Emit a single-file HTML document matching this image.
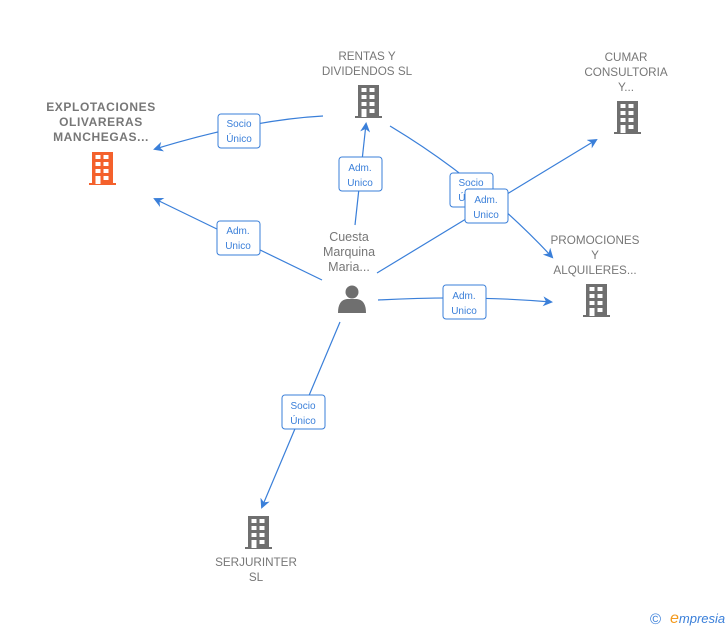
<!DOCTYPE html>
<html><head><meta charset="utf-8"><style>
html,body{margin:0;padding:0;background:#fff;}
svg{display:block;font-family:"Liberation Sans",sans-serif;}
.lbl{font-size:11.7px;fill:#777;text-anchor:middle;}
.b{font-weight:bold;font-size:12px;letter-spacing:0.6px;}
.e{fill:none;stroke:#3a7fd9;stroke-width:1.2;}
.box{fill:#fff;stroke:#3a7fd9;stroke-width:1;}
.bt{font-size:10px;fill:#3a7fd9;text-anchor:middle;}
</style></head><body>
<svg width="728" height="630" viewBox="0 0 728 630">
<defs>
<g id="bld">
<rect x="3" y="0" width="21" height="32" />
<rect x="0" y="31" width="27" height="2" />
<g fill="#fff">
<rect x="6.5" y="3" width="5" height="4"/><rect x="14.5" y="3" width="5" height="4"/>
<rect x="6.5" y="10" width="5" height="4"/><rect x="14.5" y="10" width="5" height="4"/>
<rect x="6.5" y="17" width="5" height="4"/><rect x="14.5" y="17" width="5" height="4"/>
<rect x="6.5" y="24" width="5" height="8"/><rect x="14.5" y="24" width="5" height="4"/>
</g>
</g>
<marker id="ar" markerWidth="10" markerHeight="10" refX="8" refY="5" orient="auto" markerUnits="userSpaceOnUse">
<path d="M0,0 L10,5 L0,10 L3,5 Z" fill="#3a7fd9"/>
</marker>
</defs>

<path class="e" d="M323,116 Q250,120 155,149" marker-end="url(#ar)"/>
<path class="e" d="M322,280 L155,199" marker-end="url(#ar)"/>
<path class="e" d="M355,225 L366,124" marker-end="url(#ar)"/>
<path class="e" d="M390,126 Q480,180 552,257" marker-end="url(#ar)"/>
<path class="e" d="M377,273 L596,140" marker-end="url(#ar)"/>
<path class="e" d="M378,300 Q470,295 551,302" marker-end="url(#ar)"/>
<path class="e" d="M340,322 L262,507" marker-end="url(#ar)"/>

<rect class="box" x="218" y="114" width="42" height="34" rx="3"/>
<text class="bt" x="239" y="127">Socio</text><text class="bt" x="239" y="142">Único</text>
<rect class="box" x="217" y="221" width="43" height="34" rx="3"/>
<text class="bt" x="238" y="234">Adm.</text><text class="bt" x="238" y="249">Unico</text>
<rect class="box" x="339" y="157" width="43" height="34" rx="3"/>
<text class="bt" x="360" y="171">Adm.</text><text class="bt" x="360" y="186">Unico</text>
<rect class="box" x="450" y="173" width="43" height="34" rx="3"/>
<text class="bt" x="471" y="186">Socio</text><text class="bt" x="471" y="201">Único</text>
<rect class="box" x="465" y="189" width="43" height="34" rx="3"/>
<text class="bt" x="486" y="203">Adm.</text><text class="bt" x="486" y="218">Unico</text>
<rect class="box" x="443" y="285" width="43" height="34" rx="3"/>
<text class="bt" x="464" y="299">Adm.</text><text class="bt" x="464" y="314">Unico</text>
<rect class="box" x="282" y="395" width="43" height="34" rx="3"/>
<text class="bt" x="303" y="409">Socio</text><text class="bt" x="303" y="424">Único</text>

<use href="#bld" x="89" y="152" fill="#f4612c"/>
<text class="lbl b" x="101" y="111">EXPLOTACIONES</text>
<text class="lbl b" x="101" y="126">OLIVARERAS</text>
<text class="lbl b" x="101" y="141">MANCHEGAS...</text>

<use href="#bld" x="355" y="85" fill="#6f6f6f"/>
<text class="lbl" x="367" y="60">RENTAS Y</text>
<text class="lbl" x="367" y="75">DIVIDENDOS SL</text>

<use href="#bld" x="614" y="101" fill="#6f6f6f"/>
<text class="lbl" x="626" y="61">CUMAR</text>
<text class="lbl" x="626" y="76">CONSULTORIA</text>
<text class="lbl" x="626" y="91">Y...</text>

<use href="#bld" x="583" y="284" fill="#6f6f6f"/>
<text class="lbl" x="595" y="244">PROMOCIONES</text>
<text class="lbl" x="595" y="259">Y</text>
<text class="lbl" x="595" y="274">ALQUILERES...</text>

<use href="#bld" x="245" y="516" fill="#6f6f6f"/>
<text class="lbl" x="256" y="566">SERJURINTER</text>
<text class="lbl" x="256" y="581">SL</text>

<g fill="#6f6f6f">
<circle cx="352" cy="292" r="6.5"/>
<path d="M338,313 Q338,300 347,299 L357,299 Q366,300 366,313 Z"/>
</g>
<text class="lbl" x="349" y="241" style="font-size:12.5px">Cuesta</text>
<text class="lbl" x="349" y="256" style="font-size:12.5px">Marquina</text>
<text class="lbl" x="349" y="271" style="font-size:12.5px">Maria...</text>

<text x="650" y="624" style="font-size:15px;fill:#3a7fd9">©</text>
<text x="670" y="623" style="font-size:13px;fill:#3a7fd9;font-style:italic"><tspan style="fill:#f39a1e;font-size:16px">e</tspan>mpresia</text>
</svg>
</body></html>
